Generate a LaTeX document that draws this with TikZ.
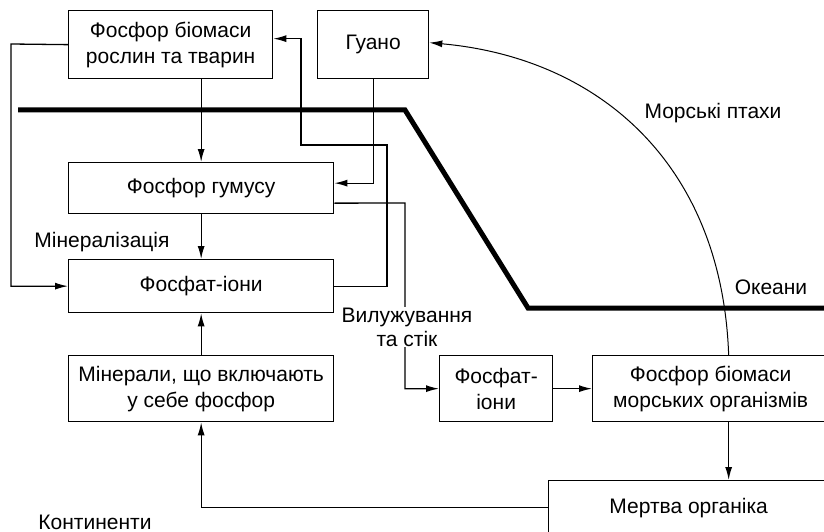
\documentclass[tikz,border=0pt]{standalone}
\usepackage{fontspec}
\setmainfont{Liberation Sans}
\usetikzlibrary{arrows.meta}
\begin{document}
\begin{tikzpicture}[x=1pt,y=-1pt,line width=1.3pt,
  box/.style={draw,line width=1.3pt,inner sep=0pt,align=center,anchor=north west,font=\fontsize{21}{26}\selectfont},
  arr/.style={-{Latex[length=13pt,width=7pt]}},
  lbl/.style={font=\fontsize{21}{24}\selectfont,inner sep=1pt,align=center}]
\useasboundingbox (0,0) rectangle (824,532);
\clip (0,0) rectangle (824,532);
% boundary
\draw[line width=5pt] (18,110) -- (405,110) -- (528,308) -- (830,308);
% boxes
\node[box,minimum width=204pt,minimum height=68pt] (bio) at (68,10) {Фосфор біомаси\\рослин та тварин};
\node[box,minimum width=111pt,minimum height=68pt] (guano) at (317,10) {Гуано};
\node[box,minimum width=265pt,minimum height=51pt] (humus) at (68,162) {Фосфор гумусу};
\node[box,minimum width=265pt,minimum height=53pt] (fion) at (68,259) {Фосфат-іони};
\node[box,minimum width=265pt,minimum height=66pt] (miner) at (68,355) {Мінерали, що включають\\у себе фосфор};
\node[box,minimum width=113pt,minimum height=66pt] (sfion) at (439,355) {Фосфат-\\іони};
\node[box,minimum width=236pt,minimum height=66pt] (mbio) at (592,355) {Фосфор біомаси\\морських організмів};
\node[box,minimum width=280pt,minimum height=54pt] (dead) at (548,480) {Мертва органіка};
% coordinates
\coordinate (r1) at (387,145);
\coordinate (r2) at (301,145);
\coordinate (leach) at (405,203);
\coordinate (loopL) at (11,44);
% connectors
\draw[arr] (humus.north |- bio.south) -- (humus.north);
\draw[arr] (humus.south) -- (fion.north);
\draw[arr] (miner.north) -- (fion.south);
\draw[arr] (dead.west) -| (miner.south);
\draw[arr] (bio.west) -- (loopL) |- (fion.west);
\draw[arr] (guano.south) |- ([yshift=5pt]humus.east);
\draw[arr] (fion.east) -| (r1) -- (r2) |- ([yshift=6pt]bio.east);
\draw[arr] ([yshift=-15pt]humus.east) -- (leach) |- (sfion.west);
\draw[arr] (sfion.east) -- (mbio.west);
\draw[arr] ([xshift=18pt]mbio.south) -- ([xshift=18pt]mbio.south |- dead.north);
\draw[arr,line width=1pt] ([xshift=18pt]mbio.north) .. controls (722,165) and (600,58) .. ([yshift=2pt]guano.east);
% labels
\node[lbl,fill=white] (leachlbl) at (407,327) {Вилужування\\та стік};
\node[lbl] (minlbl) at (102,242) {Мінералізація};
\node[lbl] (ocean) at (771,287) {Океани};
\node[lbl] (birds) at (713,113) {Морські птахи};
\node[lbl] (cont) at (95,522) {Континенти};
\end{tikzpicture}
\end{document}
